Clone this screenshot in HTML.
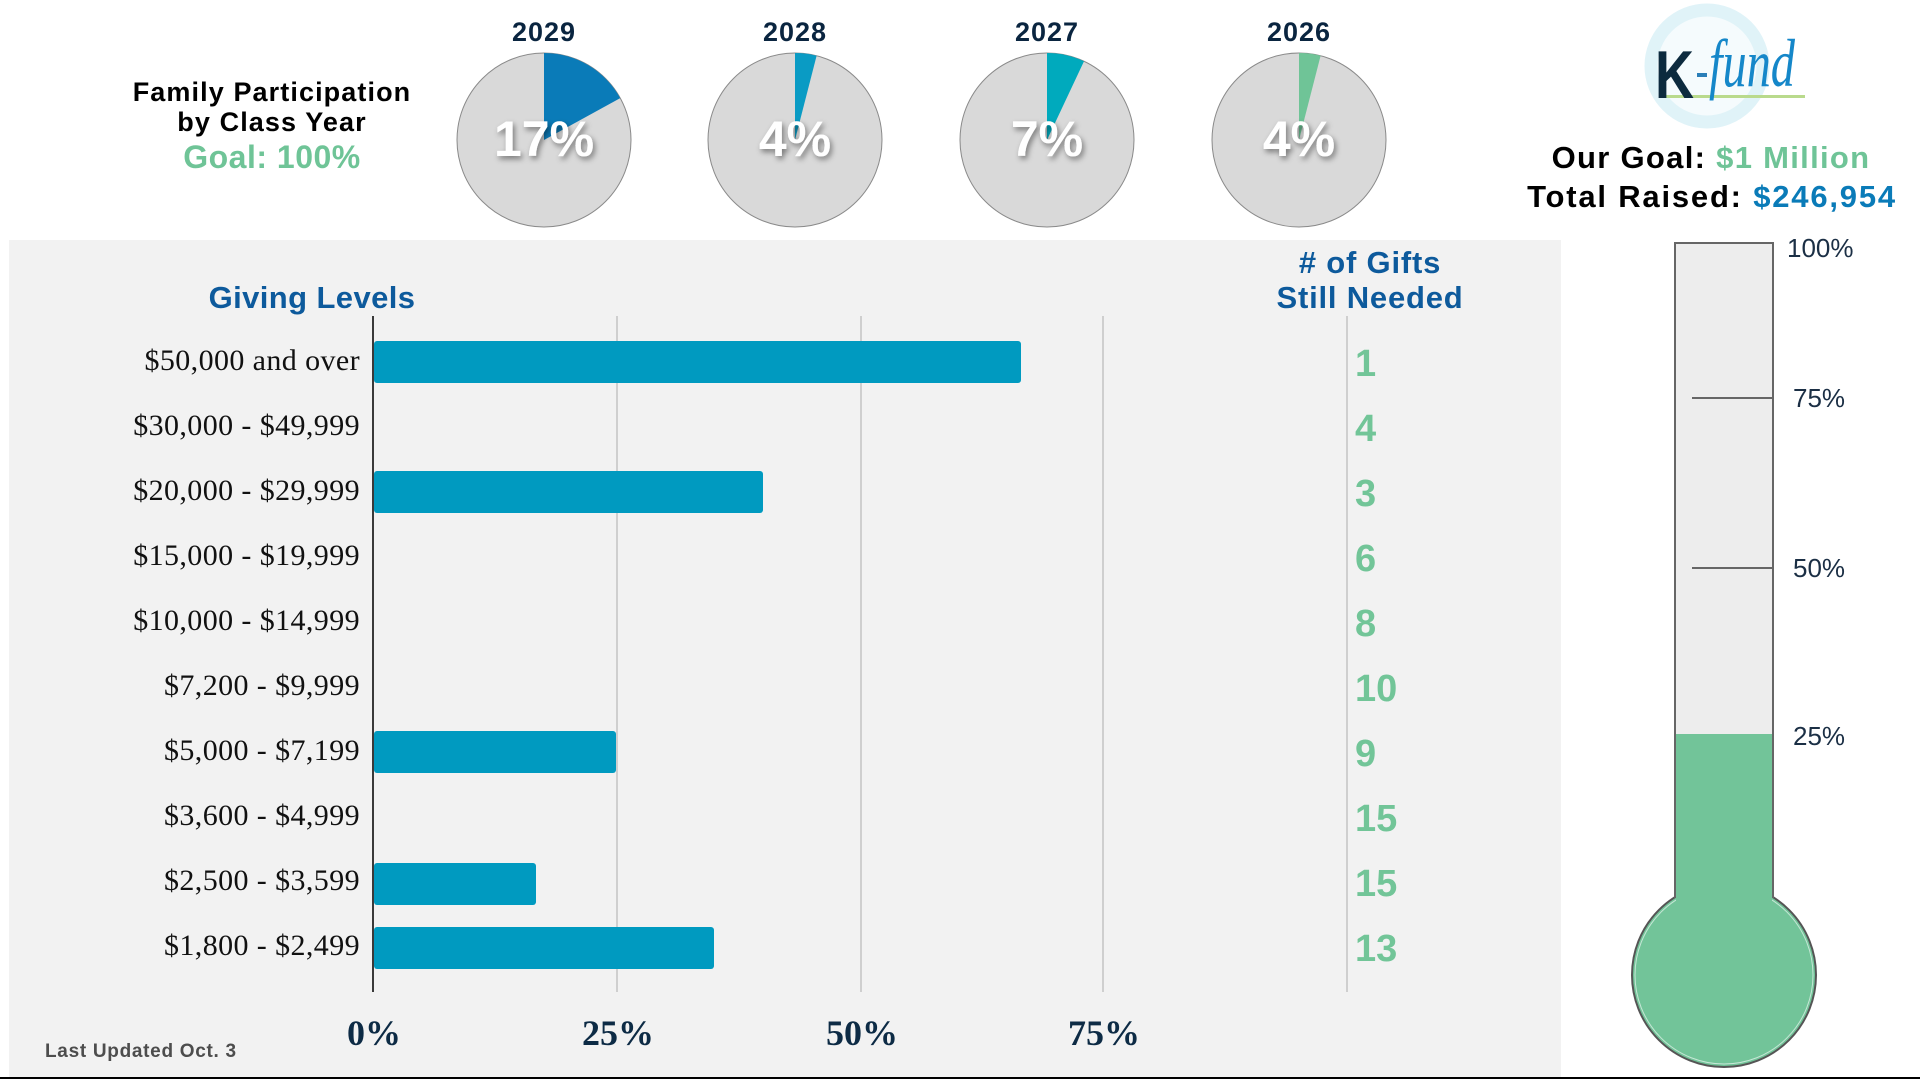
<!DOCTYPE html>
<html>
<head>
<meta charset="utf-8">
<style>
  html,body{margin:0;padding:0;background:#fff;}
  svg{display:block;}
  .sans{font-family:"Liberation Sans",Arial,sans-serif;}
  .serif{font-family:"Liberation Serif","Times New Roman",serif;}
</style>
</head>
<body>
<svg width="1920" height="1080" viewBox="0 0 1920 1080" xmlns="http://www.w3.org/2000/svg">
  <defs>
    <filter id="sh" x="-30%" y="-30%" width="160%" height="160%">
      <feDropShadow dx="2" dy="3" stdDeviation="3" flood-color="#000" flood-opacity="0.45"/>
    </filter>
  </defs>

  <!-- background panel -->
  <rect x="0" y="0" width="1920" height="1080" fill="#ffffff"/>
  <rect x="9" y="240" width="1552" height="837" fill="#f2f2f2"/>
  <rect x="0" y="1077" width="1920" height="2" fill="#000"/>

  <!-- Title left -->
  <g class="sans" font-weight="bold" text-anchor="middle">
    <text x="272" y="101" font-size="27" fill="#000" letter-spacing="1.1">Family Participation</text>
    <text x="272" y="131" font-size="27" fill="#000" letter-spacing="1.1">by Class Year</text>
    <text x="272" y="168" font-size="32" fill="#6fc497" letter-spacing="0.5">Goal: 100%</text>
  </g>

  <!-- Pies -->
  <g class="sans" font-weight="bold" text-anchor="middle">
    <text x="544" y="41" font-size="27" fill="#0a2540" letter-spacing="1">2029</text>
    <text x="795" y="41" font-size="27" fill="#0a2540" letter-spacing="1">2028</text>
    <text x="1047" y="41" font-size="27" fill="#0a2540" letter-spacing="1">2027</text>
    <text x="1299" y="41" font-size="27" fill="#0a2540" letter-spacing="1">2026</text>
  </g>

  <circle cx="544" cy="140" r="87" fill="#d9d9d9" stroke="#8a8a8a" stroke-width="1"/>
  <path d="M544,140 L544,53 A87,87 0 0,1 620.2,98.1 Z" fill="#0a7bb8"/>
  <circle cx="795" cy="140" r="87" fill="#d9d9d9" stroke="#8a8a8a" stroke-width="1"/>
  <path d="M795,140 L795,53 A87,87 0 0,1 816.6,55.7 Z" fill="#0a9bc4"/>
  <circle cx="1047" cy="140" r="87" fill="#d9d9d9" stroke="#8a8a8a" stroke-width="1"/>
  <path d="M1047,140 L1047,53 A87,87 0 0,1 1084,61.3 Z" fill="#00aabd"/>
  <circle cx="1299" cy="140" r="87" fill="#d9d9d9" stroke="#8a8a8a" stroke-width="1"/>
  <path d="M1299,140 L1299,53 A87,87 0 0,1 1320.6,55.7 Z" fill="#6fc497"/>

  <g class="sans" font-weight="bold" text-anchor="middle" font-size="50" fill="#fff" filter="url(#sh)">
    <text x="544" y="156">17%</text>
    <text x="795" y="156">4%</text>
    <text x="1047" y="156">7%</text>
    <text x="1299" y="156">4%</text>
  </g>

  <!-- Logo -->
  <circle cx="1707" cy="66" r="56" fill="#f5fbfd" stroke="#e0f3f8" stroke-width="13"/>
  <rect x="1665" y="95" width="140" height="3" fill="#b9da8c"/>
  <text x="1655" y="98" class="sans" font-weight="bold" font-size="68" fill="#0c2a3e" textLength="39" lengthAdjust="spacingAndGlyphs">K</text>
  <rect x="1697" y="73" width="10" height="4" fill="#2b7fb8"/>
  <text x="1709" y="86" class="serif" font-style="italic" font-size="68" fill="#1587c9" textLength="86" lengthAdjust="spacingAndGlyphs">fund</text>

  <!-- Goal text -->
  <g class="sans" font-weight="bold" text-anchor="middle" font-size="31">
    <text x="1711" y="168" letter-spacing="1.3"><tspan fill="#000">Our Goal: </tspan><tspan fill="#6fc497">$1 Million</tspan></text>
    <text x="1712" y="207" letter-spacing="1.8"><tspan fill="#000">Total Raised: </tspan><tspan fill="#0a7bb8">$246,954</tspan></text>
  </g>

  <!-- Bar chart headers -->
  <g class="sans" font-weight="bold" text-anchor="middle" font-size="31" fill="#0d5a9c">
    <text x="312" y="308" letter-spacing="0.4">Giving Levels</text>
    <text x="1370" y="273" letter-spacing="0.8">&#35; of Gifts</text>
    <text x="1370" y="308" letter-spacing="0.8">Still Needed</text>
  </g>

  <!-- gridlines -->
  <g stroke="#cfcfcf" stroke-width="2">
    <line x1="617" y1="316" x2="617" y2="992"/>
    <line x1="861" y1="316" x2="861" y2="992"/>
    <line x1="1103" y1="316" x2="1103" y2="992"/>
    <line x1="1347" y1="316" x2="1347" y2="992"/>
  </g>

  <!-- bars -->
  <g fill="#009ac0">
    <rect x="374" y="341" width="647" height="42" rx="3"/>
    <rect x="374" y="471" width="389" height="42" rx="3"/>
    <rect x="374" y="731" width="242" height="42" rx="3"/>
    <rect x="374" y="863" width="162" height="42" rx="3"/>
    <rect x="374" y="927" width="340" height="42" rx="3"/>
  </g>
  <line x1="373" y1="316" x2="373" y2="992" stroke="#3a3a3a" stroke-width="2"/>

  <!-- category labels -->
  <g class="serif" font-size="30" fill="#111" text-anchor="end" letter-spacing="0.4">
    <text x="360" y="370">$50,000 and over</text>
    <text x="360" y="435">$30,000 - $49,999</text>
    <text x="360" y="500">$20,000 - $29,999</text>
    <text x="360" y="565">$15,000 - $19,999</text>
    <text x="360" y="630">$10,000 - $14,999</text>
    <text x="360" y="695">$7,200 - $9,999</text>
    <text x="360" y="760">$5,000 - $7,199</text>
    <text x="360" y="825">$3,600 - $4,999</text>
    <text x="360" y="890">$2,500 - $3,599</text>
    <text x="360" y="955">$1,800 - $2,499</text>
  </g>

  <!-- gifts needed numbers -->
  <g class="sans" font-weight="bold" font-size="38" fill="#72c598">
    <text x="1355" y="376">1</text>
    <text x="1355" y="441">4</text>
    <text x="1355" y="506">3</text>
    <text x="1355" y="571">6</text>
    <text x="1355" y="636">8</text>
    <text x="1355" y="701">10</text>
    <text x="1355" y="766">9</text>
    <text x="1355" y="831">15</text>
    <text x="1355" y="896">15</text>
    <text x="1355" y="961">13</text>
  </g>

  <!-- x axis labels -->
  <g class="serif" font-weight="bold" font-size="36" fill="#0d2b45" text-anchor="middle">
    <text x="374" y="1045">0%</text>
    <text x="618" y="1045">25%</text>
    <text x="862" y="1045">50%</text>
    <text x="1104" y="1045">75%</text>
  </g>

  <text x="45" y="1057" class="sans" font-weight="bold" font-size="19" fill="#4d4d4d" letter-spacing="0.7">Last Updated Oct. 3</text>

  <!-- Thermometer -->
  <rect x="1675" y="243" width="98" height="660" fill="#ededed"/>
  <circle cx="1724" cy="975" r="92" fill="#72c499" stroke="#555" stroke-width="2"/>
  <circle cx="1724" cy="975" r="89" fill="none" stroke="#ffffff" stroke-opacity="0.6" stroke-width="1"/>
  <rect x="1676" y="734" width="96" height="175" fill="#72c499"/>
  <g stroke="#666" stroke-width="2" fill="none">
    <polyline points="1675,898 1675,243 1773,243 1773,898"/>
    <line x1="1692" y1="398" x2="1773" y2="398"/>
    <line x1="1692" y1="568" x2="1773" y2="568"/>
  </g>
  <g class="sans" font-size="26" fill="#1b2f45">
    <text x="1787" y="257">100%</text>
    <text x="1793" y="407">75%</text>
    <text x="1793" y="577">50%</text>
    <text x="1793" y="745">25%</text>
  </g>
</svg>
</body>
</html>
